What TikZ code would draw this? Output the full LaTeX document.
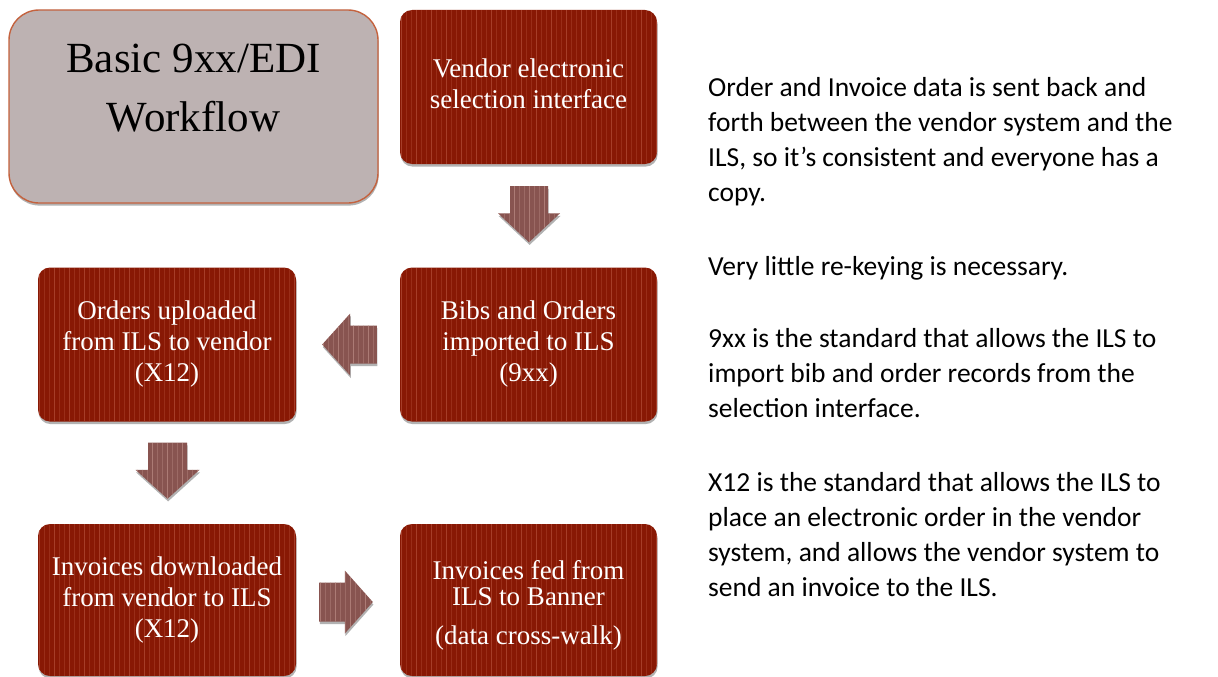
\documentclass[tikz,border=0pt]{standalone}
\usepackage{fontspec}
\setmainfont{Liberation Serif}
\newfontfamily\bodyfont{Carlito}
\usetikzlibrary{calc,shadows}

\definecolor{boxred}{RGB}{136,24,4}
\definecolor{stripered}{RGB}{170,66,44}
\definecolor{arrowc}{RGB}{136,84,80}
\definecolor{arrowstripe}{RGB}{176,128,122}
\definecolor{titlefill}{RGB}{189,178,178}
\definecolor{titleborder}{RGB}{196,98,62}

\newcommand\mystripes[3]{%
  \foreach \k in {0,...,#3}{%
    \pgfmathsetmacro\op{mod(\k,3)==0 ? 0.9 : 0.5}%
    \draw[#1, line width=0.9pt, opacity=\op]
      ([xshift=\k*#2+1.5pt]path picture bounding box.south west) --
      ([xshift=\k*#2+1.5pt]path picture bounding box.north west);}}

\tikzset{
  softshadow/.style={drop shadow={shadow xshift=0.6pt, shadow yshift=-2.6pt, opacity=0.3, fill=black}},
  redbox/.style={rectangle, rounded corners=12pt, fill=boxred, minimum width=257pt,
    minimum height=154pt, inner sep=0pt, align=center, text=white,
    font=\fontsize{27}{31}\selectfont, softshadow,
    path picture={\mystripes{stripered}{5pt}{54}}},
  titlebox/.style={rectangle, rounded corners=30pt, fill=titlefill, draw=titleborder,
    line width=1.4pt, minimum width=369pt, minimum height=193pt, inner sep=0pt, softshadow},
  titletext/.style={align=center, inner sep=0pt, font=\fontsize{43}{59}\selectfont, text=black},
  blockarrow/.style={fill=arrowc, softshadow, path picture={\mystripes{arrowstripe}{5pt}{14}}},
  body/.style={anchor=base west, inner sep=0pt, font=\bodyfont\fontsize{27.5}{35}\selectfont, text=black},
}

\begin{document}
\begin{tikzpicture}[x=1pt, y=-1pt]
\useasboundingbox (0,0) rectangle (1218,677);

% title
\node[titlebox] (title) at (193.5,106.5) {};
\node[titletext] (titlet) at (193.5,88) {Basic 9xx/EDI\\Workflow};

% process boxes
\node[redbox] (vendor) at (528.5,87) {Vendor electronic\\selection interface\\[-25pt]\mbox{}};
\node[redbox] (bibs) at (528.5,344.5) {Bibs and Orders\\imported to ILS\\(9xx)};
\node[redbox, minimum width=258pt] (orders) at (167,344.5) {Orders uploaded\\from ILS to vendor\\(X12)};
\node[redbox, minimum width=258pt, minimum height=152pt] (invdown) at (167,600) {Invoices downloaded\\from vendor to ILS\\(X12)};
\node[redbox, minimum height=152pt] (invfed) at (528.5,600) {\rule{0pt}{30pt}Invoices fed from\\[-5pt]ILS to Banner\\[8pt](data cross-walk)};

% block arrows
\coordinate (a1s) at ($(vendor.south)+(0.5,22)$);
\coordinate (a1t) at ($(bibs.north)+(0.5,-25)$);
\fill[blockarrow] ($(a1s)+(-19,0)$) -- ($(a1s)+(19,0)$) -- ($(a1t)+(19,-29)$) -- ($(a1t)+(31,-29)$)
  -- (a1t) -- ($(a1t)+(-31,-29)$) -- ($(a1t)+(-19,-29)$) -- cycle;

\coordinate (a2s) at ($(bibs.west)+(-23,0)$);
\coordinate (a2t) at ($(orders.east)+(26,0)$);
\fill[blockarrow] ($(a2s)+(0,-19)$) -- ($(a2s)+(0,19)$) -- ($(a2t)+(28,19)$) -- ($(a2t)+(28,31)$)
  -- (a2t) -- ($(a2t)+(28,-31)$) -- ($(a2t)+(28,-19)$) -- cycle;

\coordinate (a3s) at ($(orders.south)+(0.5,21)$);
\coordinate (a3t) at ($(invdown.north)+(0.5,-25)$);
\fill[blockarrow] ($(a3s)+(-19.5,0)$) -- ($(a3s)+(19.5,0)$) -- ($(a3t)+(19.5,-29)$) -- ($(a3t)+(32,-29)$)
  -- (a3t) -- ($(a3t)+(-32,-29)$) -- ($(a3t)+(-19.5,-29)$) -- cycle;

\coordinate (a4s) at ($(invdown.east)+(23,2)$);
\coordinate (a4t) at ($(invfed.west)+(-27,2)$);
\fill[blockarrow] ($(a4s)+(0,-19.5)$) -- ($(a4s)+(0,19.5)$) -- ($(a4t)+(-28,19.5)$) -- ($(a4t)+(-28,31.5)$)
  -- (a4t) -- ($(a4t)+(-28,-31.5)$) -- ($(a4t)+(-28,-19.5)$) -- cycle;

% explanatory text
\node[body] (l1) at (708,96) {Order and Invoice data is sent back and};
\node[body] (l2) at (708,131) {forth between the vendor system and the};
\node[body] (l3) at (708,166) {ILS, so it’s consistent and everyone has a};
\node[body] (l4) at (708,201) {copy.};
\node[body] (l5) at (708,275) {Very little re-keying is necessary.};
\node[body] (l6) at (708,347) {9xx is the standard that allows the ILS to};
\node[body] (l7) at (708,382) {import bib and order records from the};
\node[body] (l8) at (708,417) {selection interface.};
\node[body] (l9) at (708,491) {X12 is the standard that allows the ILS to};
\node[body] (l10) at (708,526) {place an electronic order in the vendor};
\node[body] (l11) at (708,561) {system, and allows the vendor system to};
\node[body] (l12) at (708,596) {send an invoice to the ILS.};
\end{tikzpicture}
\end{document}
